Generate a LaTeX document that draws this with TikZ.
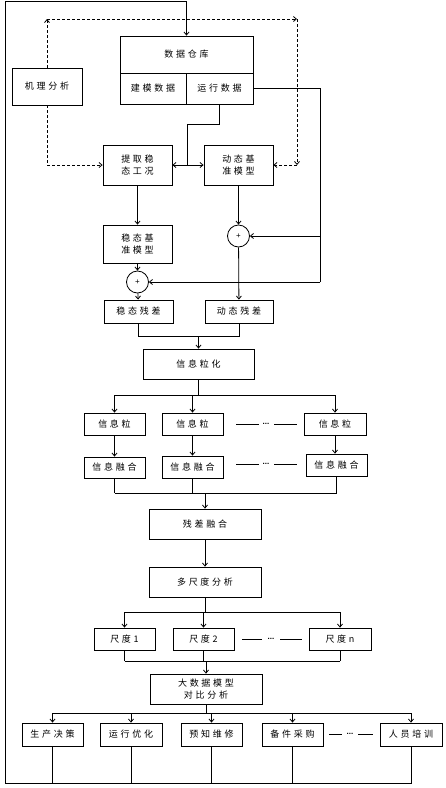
\documentclass[tikz,border=0pt]{standalone}
\usepackage{fontspec}
\setmainfont{Liberation Sans}
\newfontfamily\cjk[LetterSpace=30]{Noto Sans CJK SC}
\usetikzlibrary{arrows.meta}
\begin{document}
\begin{tikzpicture}[x=1pt,y=-1pt,
  bx/.style={draw, line width=0.8pt, inner sep=0pt, align=center,
     font=\cjk\fontsize{9}{12.5}\selectfont},
  ln/.style={line width=0.8pt},
  arr/.style={line width=0.8pt, -{Straight Barb[length=3pt,width=5pt]}},
  dsh/.style={dash pattern=on 3pt off 2pt},
  cir/.style={draw, circle, line width=0.8pt, minimum size=22pt, inner sep=0pt, font=\fontsize{8}{8}\selectfont},
  dots/.style={inner sep=0pt, font=\fontsize{8}{8}\selectfont\bfseries}]
\useasboundingbox (0,0) rectangle (445,788);
% ---- boxes
\node[bx, minimum width=133pt, minimum height=37pt] (dw) at (186.5,54.5) {数据仓库};
\node[bx, minimum width=66pt, minimum height=31pt] (jm) at (153,88.5) {建模数据};
\node[bx, minimum width=67pt, minimum height=31pt] (yx) at (219.5,88.5) {运行数据};
\node[bx, minimum width=70pt, minimum height=37pt] (jl) at (47,86.5) {机理分析};
\node[bx, minimum width=69pt, minimum height=40pt] (tq) at (137.5,165) {提取稳\\态工况};
\node[bx, minimum width=69pt, minimum height=40pt] (dt) at (238.5,165) {动态基\\准模型};
\node[bx, minimum width=69pt, minimum height=38pt] (wt) at (137.5,244) {稳态基\\准模型};
\node[cir] (c1) at (137.5,282) {+};
\node[cir] (c2) at (238.5,236) {+};
\node[bx, minimum width=69pt, minimum height=23pt] (wc) at (138.5,311.5) {稳态残差};
\node[bx, minimum width=68pt, minimum height=23pt] (dc) at (239,311.5) {动态残差};
\node[bx, minimum width=111pt, minimum height=30pt] (lh) at (198.5,364) {信息粒化};
\node[bx, minimum width=61pt, minimum height=22pt] (g1) at (114.5,424) {信息粒};
\node[bx, minimum width=61pt, minimum height=22pt] (g2) at (192.5,424) {信息粒};
\node[bx, minimum width=62pt, minimum height=22pt] (g3) at (335,424) {信息粒};
\node[bx, minimum width=61pt, minimum height=21pt] (f1) at (114.5,467.5) {信息融合};
\node[bx, minimum width=61pt, minimum height=22pt] (f2) at (192.5,467) {信息融合};
\node[bx, minimum width=61pt, minimum height=22pt] (f3) at (336.5,465) {信息融合};
\node[bx, minimum width=112pt, minimum height=30pt] (cr) at (205,524) {残差融合};
\node[bx, minimum width=112pt, minimum height=30pt] (md) at (205,582) {多尺度分析};
\node[bx, minimum width=61pt, minimum height=22pt] (s1) at (124.5,639) {尺度1};
\node[bx, minimum width=61pt, minimum height=22pt] (s2) at (203.5,639) {尺度2};
\node[bx, minimum width=62pt, minimum height=22pt] (s3) at (340,639) {尺度n};
\node[bx, minimum width=112pt, minimum height=30pt] (dsj) at (206,689) {大数据模型\\对比分析};
\node[bx, minimum width=61pt, minimum height=23pt] (b1) at (52.5,734.5) {生产决策};
\node[bx, minimum width=62pt, minimum height=23pt] (b2) at (131,734.5) {运行优化};
\node[bx, minimum width=61pt, minimum height=23pt] (b3) at (211.5,734.5) {预知维修};
\node[bx, minimum width=61pt, minimum height=23pt] (b4) at (292.5,734.5) {备件采购};
\node[bx, minimum width=62pt, minimum height=23pt] (b5) at (411,734.5) {人员培训};
% ---- outer feedback loop
\coordinate (lb) at (5,783);
\coordinate (lt) at (5,1.5);
\foreach \b in {b1,b2,b3,b4}{\draw[ln] (\b.south) -- (\b.south |- lb);}
\draw[ln] (b5.south) -- (b5.south |- lb) -- (lb) -- (lt) -- (lt -| dw.north);
\draw[arr] (lt -| dw.north) -- (dw.north);
% ---- dashed mechanism analysis lines
\coordinate (dtl) at (jl.north |- 0,19);
\coordinate (dtr) at (297,19);
\coordinate (dbr) at (297,165);
\coordinate (dbl) at (jl.south |- tq.west);
\draw[arr,dsh] (jl.north) -- (dtl);
\draw[arr,dsh] (dtl) -- (dtr);
\draw[arr,dsh] (dtr) -- (dbr);
\draw[arr,dsh] (dbr) -- (dt.east);
\draw[arr,dsh] (jl.south) -- (dbl) -- (tq.west);
% ---- operating data feeds
\coordinate (rr) at (320,88.5);
\draw[ln] (yx.east) -- (rr) -- (rr |- c1.east);
\draw[arr] (rr |- c1.east) -- (c1.east);
\draw[arr] (rr |- c2.east) -- (c2.east);
\coordinate (jn) at (187,165);
\draw[ln] (yx.south) |- (187,124) -- (jn);
\draw[arr] (jn) -- (tq.east);
\draw[arr] (jn) -- (dt.west);
\draw[arr] (tq) -- (wt);
\draw[arr] (wt) -- (c1);
\draw[arr] (c1) -- (wc);
\draw[arr] (dt) -- (c2);
\draw[arr] (c2) -- (dc);
% ---- residual merge
\coordinate (m1) at (0,336);
\draw[ln] (wc.south) -- (wc.south |- m1) -- (dc.south |- m1) -- (dc.south);
\draw[arr] (lh.north |- m1) -- (lh.north);
% ---- granulation
\coordinate (m2) at (0,395);
\draw[ln] (lh.south) -- (lh.south |- m2);
\draw[ln] (g1.north |- m2) -- (g3.north |- m2);
\foreach \g in {g1,g2,g3}{\draw[arr] (\g.north |- m2) -- (\g.north);}
\draw[arr] (g1) -- (f1);
\draw[arr] (g2) -- (f2);
\draw[arr] (g3.south) -- (g3.south |- f3.north);
\node[dots] (d1) at (266,424) {...};
\draw[ln] (236,424) -- (259,424);
\draw[ln] (274,424) -- (297,424);
\node[dots] (d2) at (266,464) {...};
\draw[ln] (236,464) -- (259,464);
\draw[ln] (274,464) -- (297,464);
% ---- fusion merge
\coordinate (m3) at (0,493);
\foreach \f in {f1,f2,f3}{\draw[ln] (\f.south) -- (\f.south |- m3);}
\draw[ln] (f1.south |- m3) -- (f3.south |- m3);
\draw[arr] (cr.north |- m3) -- (cr.north);
\draw[arr] (cr) -- (md);
% ---- scales
\coordinate (m4) at (0,612);
\draw[ln] (md.south) -- (md.south |- m4);
\draw[ln] (s1.north |- m4) -- (s3.north |- m4);
\foreach \s in {s1,s2,s3}{\draw[arr] (\s.north |- m4) -- (\s.north);}
\node[dots] (d3) at (271,639) {...};
\draw[ln] (242,639) -- (262,639);
\draw[ln] (280,639) -- (302,639);
\coordinate (m5) at (0,661);
\foreach \s in {s1,s2,s3}{\draw[ln] (\s.south) -- (\s.south |- m5);}
\draw[ln] (s1.south |- m5) -- (s3.south |- m5);
\draw[arr] (dsj.north |- m5) -- (dsj.north);
% ---- applications
\coordinate (m6) at (0,713);
\draw[ln] (dsj.south) -- (dsj.south |- m6);
\draw[ln] (b1.north |- m6) -- (b5.north |- m6);
\foreach \b in {b1,b2,b3,b4,b5}{\draw[arr] (\b.north |- m6) -- (\b.north);}
\node[dots] (d4) at (350,734) {...};
\draw[ln] (329,734) -- (342,734);
\draw[ln] (358,734) -- (373,734);
\end{tikzpicture}
\end{document}
